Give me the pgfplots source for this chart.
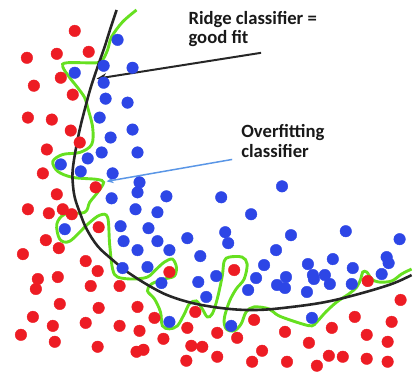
\documentclass[border=0pt]{standalone}
\usepackage{pgfplots}
\pgfplotsset{compat=1.18}
\usepackage{fontspec}
\setmainfont{Carlito}
\usetikzlibrary{arrows.meta}
\definecolor{dotred}{RGB}{237,28,36}
\definecolor{dotblue}{RGB}{45,70,230}
\definecolor{fitgreen}{RGB}{102,224,32}
\definecolor{lineblue}{RGB}{90,150,230}
\definecolor{txt}{RGB}{25,25,25}
\begin{document}
\begin{tikzpicture}
\begin{axis}[scale only axis, width=413bp, height=371bp,
  xmin=0, xmax=413, ymin=0, ymax=371, y dir=reverse,
  hide axis, clip=false]
\path (axis cs:0,0) rectangle (axis cs:413,371);
% red class
\addplot[only marks, mark=*, mark size=5.8bp, color=dotred] coordinates {
(75,31)(27,58)(57,54)(89,52)(61,78)(34,86)(73,95)(28,118)(52,120)(71,131)(80,143)(47,150)(43,174)(96,188)
(57,195)(28,210)(49,214)(63,210)(72,215)(99,228)(46,241)(59,249)(23,255)(86,262)(98,272)(38,280)(36,290)(58,278)(91,287)(120,287)(170,273)(60,305)(99,309)(138,308)(33,318)(53,327)(86,324)(120,327)(155,319)(140,332)(196,313)(188,329)(21,336)(55,343)(164,340)(98,348)(137,353)(144,351)(192,347)(203,348)(187,362)
(235,271)(369,282)(402,301)(255,321)(356,318)(393,323)(218,334)(238,339)(286,333)(333,329)(368,336)(389,343)(263,352)(310,344)(218,358)(253,363)(288,363)(330,357)(344,358)(368,360)(389,363)(318,367)
};
% blue class
\addplot[only marks, mark=*, mark size=5.8bp, color=dotblue] coordinates {
(118,40)(104,66)(133,68)(75,73)(104,83)(106,99)(128,103)(100,118)(133,130)(111,138)(102,153)(138,153)(88,159)(61,165)(81,172)(113,174)(140,183)(283,187)
(112,199)(138,193)(167,197)(136,210)(158,213)(65,230)(121,227)(149,229)(124,242)(158,242)(188,239)(138,251)(170,251)(201,257)(123,269)(148,268)(162,284)(199,283)(207,298)(170,323)
(222,198)(252,215)(226,233)(229,244)(292,236)(347,232)(401,240)(277,251)(388,258)(390,264)(265,266)(309,265)(334,260)(354,269)(383,275)(217,277)(257,279)(287,278)(314,276)(326,276)(278,286)(286,289)(315,280)(331,285)(353,285)(249,291)(308,293)(313,319)(232,327)
};
% overfitting boundary
\addplot[color=fitgreen, line width=2.9bp, smooth, tension=0.55] coordinates {
(137,10)(123,22)(112,37)(108,50)(103,60)(97,63)(67,63)(63,67)(70,78)(78,88)(85,98)(88,108)(93,128)(92,145)(80,153)(63,155)(53,162)(58,172)(73,178)(97,180)(104,183)(98,193)(90,203)(85,213)(65,215)(57,225)(60,240)(70,242)(88,225)(100,216)(108,218)(110,245)(113,270)(118,278)(133,280)(148,278)(157,270)(165,263)(173,260)(177,268)(175,277)(165,280)(152,285)(148,292)(155,300)(161,313)(163,327)(170,330)(178,327)(185,315)(190,305)(197,302)(203,310)(208,318)(213,315)(218,300)(223,277)(225,262)(230,258)(243,258)(248,265)(245,280)(237,290)(230,303)(225,320)(227,330)(235,332)(242,325)(247,313)(255,308)(270,310)(280,317)(303,325)(313,327)(318,323)(327,313)(338,303)(350,295)(358,288)(362,280)(364,273)(368,273)(373,280)(380,283)(393,282)(403,275)(413,270)
};
% ridge boundary
\addplot[color=black!85, line width=2.6bp, smooth, tension=0.6] coordinates {
(117,10)(111,28)(105,47)(98,67)(91,88)(85,110)(80,130)(76,150)(73,170)(73,183)(75,198)(80,213)(87,230)(98,247)(112,260)(128,273)(150,287)(170,297)(197,305)(230,310)(260,311)(293,308)(327,303)(360,295)(393,285)(413,276)
};
\draw[black!85, line width=2bp, -{Stealth[length=10bp,width=8bp]}] (axis cs:262,53) -- (axis cs:97,79);
\draw[lineblue, line width=1.5bp, -{Stealth[length=7bp,width=6bp]}] (axis cs:233,160) -- (axis cs:107,182);
\node[anchor=base west, inner sep=0pt, text=txt, font=\fontsize{18.8}{19}\selectfont\bfseries, align=left] at (axis cs:189,44) {Ridge classifier =\\good fit};
\node[anchor=base west, inner sep=0pt, text=txt, font=\fontsize{18.8}{20}\selectfont\bfseries, align=left] at (axis cs:242,158) {Overfitting\\classifier};
\end{axis}
\end{tikzpicture}
\end{document}
